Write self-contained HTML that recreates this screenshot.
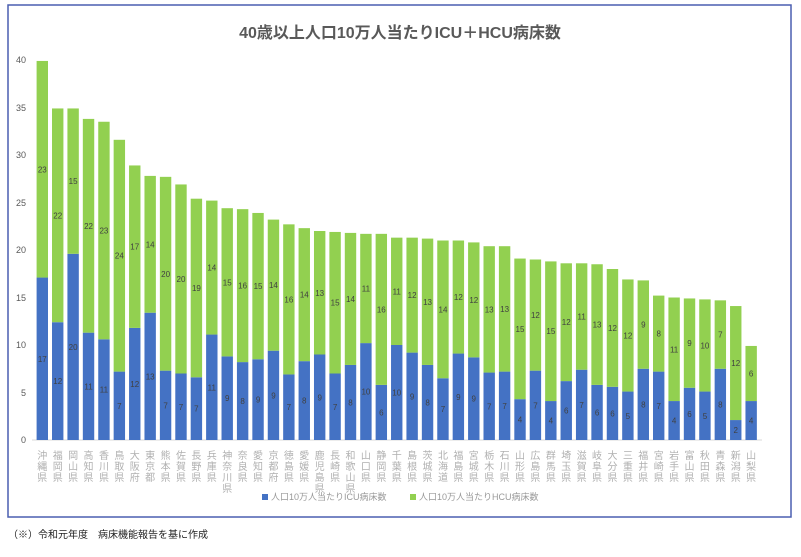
<!DOCTYPE html>
<html><head><meta charset="utf-8"><style>
body{margin:0;background:#fff;width:801px;height:552px;overflow:hidden}
svg text{font-family:"Liberation Sans","Noto Sans CJK JP",sans-serif}
</style></head><body>
<svg id="s" width="801" height="552" xmlns="http://www.w3.org/2000/svg">
<rect x="8" y="5" width="783" height="512" fill="#fff" stroke="#4a5fb0" stroke-width="1.5"/>
<text x="400" y="38" text-anchor="middle" font-size="16" font-weight="bold" fill="#595959">40歳以上人口10万人当たりICU＋HCU病床数</text>
<line x1="32" y1="440" x2="762" y2="440" stroke="#d9d9d9"/>
<g font-size="9" fill="#595959" text-anchor="end">
<text x="26" y="443">0</text><text x="26" y="396">5</text><text x="26" y="348">10</text><text x="26" y="301">15</text><text x="26" y="253">20</text><text x="26" y="206">25</text><text x="26" y="158">30</text><text x="26" y="111">35</text><text x="26" y="63">40</text>
</g>
<g id="bars"></g>
<rect x="262" y="494" width="6" height="6" fill="#4472c4"/>
<text x="271" y="500" font-size="9" fill="#999">人口10万人当たりICU病床数</text>
<rect x="410" y="494" width="6" height="6" fill="#92d050"/>
<text x="419" y="500" font-size="9" fill="#999">人口10万人当たりHCU病床数</text>
<text x="8" y="538" font-size="10" fill="#222">（※）令和元年度　病床機能報告を基に作成</text>
</svg>
<script>
var d=[["沖縄県",17.1,22.8,17,23],["福岡県",12.4,22.5,12,22],["岡山県",19.6,15.3,20,15],["高知県",11.3,22.5,11,22],["香川県",10.6,22.9,11,23],["鳥取県",7.2,24.4,7,24],["大阪府",11.8,17.1,12,17],["東京都",13.4,14.4,13,14],["熊本県",7.3,20.4,7,20],["佐賀県",7,19.9,7,20],["長野県",6.6,18.8,7,19],["兵庫県",11.1,14.1,11,14],["神奈川県",8.8,15.6,9,15],["奈良県",8.2,16.1,8,16],["愛知県",8.5,15.4,9,15],["京都府",9.4,13.8,9,14],["徳島県",6.9,15.8,7,16],["愛媛県",8.3,14,8,14],["鹿児島県",9,13,9,13],["長崎県",7,14.9,7,15],["和歌山県",7.9,13.9,8,14],["山口県",10.2,11.5,10,11],["静岡県",5.8,15.9,6,16],["千葉県",10,11.3,10,11],["島根県",9.2,12.1,9,12],["茨城県",7.9,13.3,8,13],["北海道",6.5,14.5,7,14],["福島県",9.1,11.9,9,12],["宮城県",8.7,12.1,9,12],["栃木県",7.1,13.3,7,13],["石川県",7.2,13.2,7,13],["山形県",4.3,14.8,4,15],["広島県",7.3,11.7,7,12],["群馬県",4.1,14.7,4,15],["埼玉県",6.2,12.4,6,12],["滋賀県",7.4,11.2,7,11],["岐阜県",5.8,12.7,6,13],["大分県",5.6,12.4,6,12],["三重県",5.1,11.8,5,12],["福井県",7.5,9.3,8,9],["宮崎県",7.2,8,7,8],["岩手県",4.1,10.9,4,11],["富山県",5.5,9.4,6,9],["秋田県",5.1,9.7,5,10],["青森県",7.5,7.2,8,7],["新潟県",2.1,12,2,12],["山梨県",4.1,5.8,4,6]];
var ns="http://www.w3.org/2000/svg",g=document.getElementById("bars"),s=9.5,b=440;
function el(t,a,tx){var e=document.createElementNS(ns,t);for(var k in a)e.setAttribute(k,a[k]);if(tx!=null)e.textContent=tx;g.appendChild(e);}
d.forEach(function(r,i){var cx=42.3+i*15.41,x=cx-5.7,hb=r[1]*s,hg=r[2]*s;
el("rect",{x:x,y:b-hb,width:11.4,height:hb,fill:"#4472c4"});
el("rect",{x:x,y:b-hb-hg,width:11.4,height:hg,fill:"#92d050"});
el("text",{x:cx,y:b-hb/2+3,"font-size":8,fill:"#404040","text-anchor":"middle"},r[3]);
el("text",{x:cx,y:b-hb-hg/2+3,"font-size":8,fill:"#404040","text-anchor":"middle"},r[4]);
var ch=r[0].split("");ch.forEach(function(c,j){el("text",{x:cx,y:459+j*11,"font-size":10,fill:"#b0b0b0","text-anchor":"middle"},c);});
});
</script>
</body></html>
